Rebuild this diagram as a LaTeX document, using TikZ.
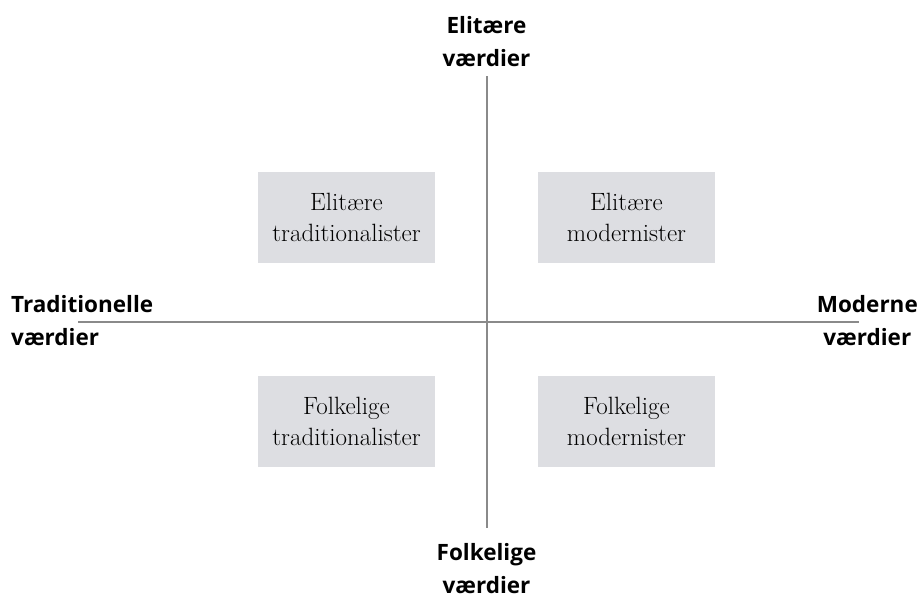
\documentclass[tikz,border=0pt]{standalone}
\usepackage{fontspec}
\newfontfamily\polefont{Open Sans}
\usetikzlibrary{positioning}
\definecolor{boxgray}{RGB}{221,222,226}
\definecolor{axisgray}{RGB}{138,138,138}

\begin{document}
\begin{tikzpicture}[x=1pt,y=-1pt,
  quad/.style={fill=boxgray,minimum width=177pt,minimum height=91pt,align=center,inner sep=0pt,font=\fontsize{25}{31}\selectfont},
  pole/.style={font=\polefont\bfseries\fontsize{22.5}{33}\selectfont,align=center,inner sep=0pt}]
  \useasboundingbox (0,0) rectangle (923,597);

  % axes
  \coordinate (o) at (486.5,322);
  \coordinate (w) at (78,322);
  \coordinate (e) at (859,322);
  \coordinate (n) at (486.5,76);
  \coordinate (s) at (486.5,528);
  \draw[axisgray,line width=2pt] (w) -- (e) (n) -- (s);

  % quadrants
  \node[quad] (et) at (346.5,217.5) {Elitære\\traditionalister};
  \node[quad] (em) at (626.5,217.5) {Elitære\\modernister};
  \node[quad] (ft) at (346.5,421.5) {Folkelige\\traditionalister};
  \node[quad] (fm) at (626.5,421.5) {Folkelige\\modernister};

  % poles
  \node[pole,anchor=north] (top) at (486.5,16) {Elitære\\værdier};
  \node[pole,anchor=north] (bottom) at (486.5,543) {Folkelige\\værdier};
  \node[pole,anchor=north west,align=left] (left) at (11,295) {Traditionelle\\værdier};
  \node[pole,anchor=north east] (right) at (918,295) {Moderne\\værdier};

\end{tikzpicture}
\end{document}
